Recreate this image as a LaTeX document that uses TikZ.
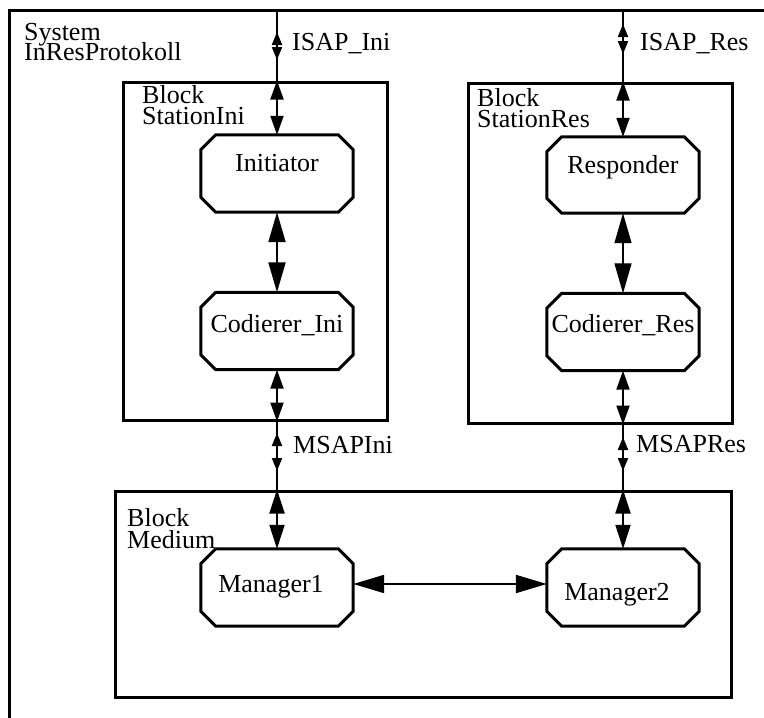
\documentclass[tikz,border=0pt]{standalone}
\usepackage{fontspec}
\setmainfont{Liberation Serif}
\usetikzlibrary{arrows.meta,calc}

\tikzset{
  sysframe/.style={line width=3pt, line cap=rect},
  blk/.style={draw, line width=3pt, inner sep=0pt},
  proc/.style={minimum width=152pt, inner xsep=0pt, inner ysep=0pt,
               font=\fontsize{26}{20}\selectfont},
  procline/.style={line width=3pt, line join=miter},
  lbl/.style={font=\fontsize{26}{20}\selectfont, inner sep=0pt, anchor=base west},
  chan/.style={line width=2pt},
  thin chan/.style={line width=1.3pt},
  tipS/.tip={Triangle[length=13pt,width=10pt]},
  tipM/.tip={Triangle[length=19pt,width=13pt]},
  tipN/.tip={Triangle[length=24pt,width=15pt]},
  tipL/.tip={Triangle[length=30pt,width=17pt]},
  tipH/.tip={Triangle[length=31pt,width=18pt]},
}

% octagonal SDL process symbol around a named node
\newcommand\octo[1]{%
  \draw[procline] ([xshift=15pt]#1.north west) -- ([xshift=-15pt]#1.north east)
    -- ([yshift=-15pt]#1.north east) -- ([yshift=15pt]#1.south east)
    -- ([xshift=-15pt]#1.south east) -- ([xshift=15pt]#1.south west)
    -- ([yshift=15pt]#1.south west) -- ([yshift=-15pt]#1.north west) -- cycle;}

\begin{document}
\begin{tikzpicture}[x=1pt,y=-1pt]
\useasboundingbox (0,0) rectangle (764,718);

% system frame (continues past the page)
\coordinate (sysTL) at (9,10);
\draw[sysframe] (766,10) -- (sysTL) -- (9,720);
\node[lbl] (sysA) at (24,40) {System};
\node[lbl] (sysB) at (24,60) {InResProtokoll};

% blocks
\node[blk, minimum width=264pt, minimum height=338pt] (stIni) at (255,251) {};
\node[blk, minimum width=264pt, minimum height=340pt] (stRes) at (600,253) {};
\node[blk, minimum width=616pt, minimum height=206pt] (medium) at (423,594) {};

\node[lbl] (biA) at (142,103) {Block};
\node[lbl] (biB) at (142,124) {StationIni};
\node[lbl] (brA) at (477,106) {Block};
\node[lbl] (brB) at (477,127) {StationRes};
\node[lbl] (bmA) at (127,526) {Block};
\node[lbl] (bmB) at (127,548) {Medium};

% processes
\node[proc, text height=36pt, text depth=41pt] (ini) at (277,173.5) {Initiator};
\node[proc, text height=40pt, text depth=37pt] (codIni) at (277,331) {Codierer\_Ini};
\node[proc, text height=36pt, text depth=40pt] (resp) at (623,175) {Responder};
\node[proc, text height=39pt, text depth=38pt] (codRes) at (623,332) {Codierer\_Res};
\node[proc, text height=43pt, text depth=34pt] (man1) at (277,587.5) {\hspace*{-12pt}Manager1};
\node[proc, text height=51pt, text depth=26pt] (man2) at (623,587.5) {\hspace*{-12pt}Manager2};
\foreach \n in {ini,codIni,resp,codRes,man1,man2} {\octo{\n}}

% channel labels
\node[lbl] (isapIni) at (292,50) {ISAP\_Ini};
\node[lbl] (isapRes) at (640,50) {ISAP\_Res};
\node[lbl] (msapIni) at (293,453) {MSAPIni};
\node[lbl] (msapRes) at (636,452) {MSAPRes};

% left column of channels
\draw[chan] (ini |- sysTL) -- (ini |- stIni.north);
\coordinate (iiU) at (277,32);
\coordinate (iiD) at (277,60);
\draw[chan, {tipS}-{tipS}] (iiU) -- (iiD);
\draw[chan, {tipM}-{tipM}] (ini |- stIni.north) -- (ini.north);
\draw[chan, {tipL}-{tipL}] (ini.south) -- (codIni.north);
\draw[chan, {tipM}-{tipM}] (codIni.south) -- (codIni |- stIni.south);
\draw[chan] (codIni |- stIni.south) -- (man1 |- medium.north);
\coordinate (miU) at (277,433);
\coordinate (miD) at (277,471);
\draw[chan, {tipS}-{tipS}] (miU) -- (miD);
\draw[chan, {tipN}-{tipN}] (man1 |- medium.north) -- (man1.north);

% right column of channels
\draw[chan] (resp |- sysTL) -- (resp |- stRes.north);
\coordinate (irU) at (623,24);
\coordinate (irD) at (623,54);
\draw[chan, {tipS}-{tipS}] (irU) -- (irD);
\draw[chan, {tipM}-{tipM}] (resp |- stRes.north) -- (resp.north);
\draw[thin chan, {tipL}-{tipL}] (resp.south) -- (codRes.north);
\draw[chan, {tipM}-{tipM}] (codRes.south) -- (codRes |- stRes.south);
\draw[chan] (codRes |- stRes.south) -- (man2 |- medium.north);
\coordinate (mrU) at (623,437);
\coordinate (mrD) at (623,471);
\draw[chan, {tipS}-{tipS}] (mrU) -- (mrD);
\draw[chan, {tipN}-{tipN}] (man2 |- medium.north) -- (man2.north);

% route between the managers
\draw[chan, {tipH}-{tipH}] ([yshift=3.5pt]man1.east) -- ([yshift=3.5pt]man2.west);
\end{tikzpicture}
\end{document}
